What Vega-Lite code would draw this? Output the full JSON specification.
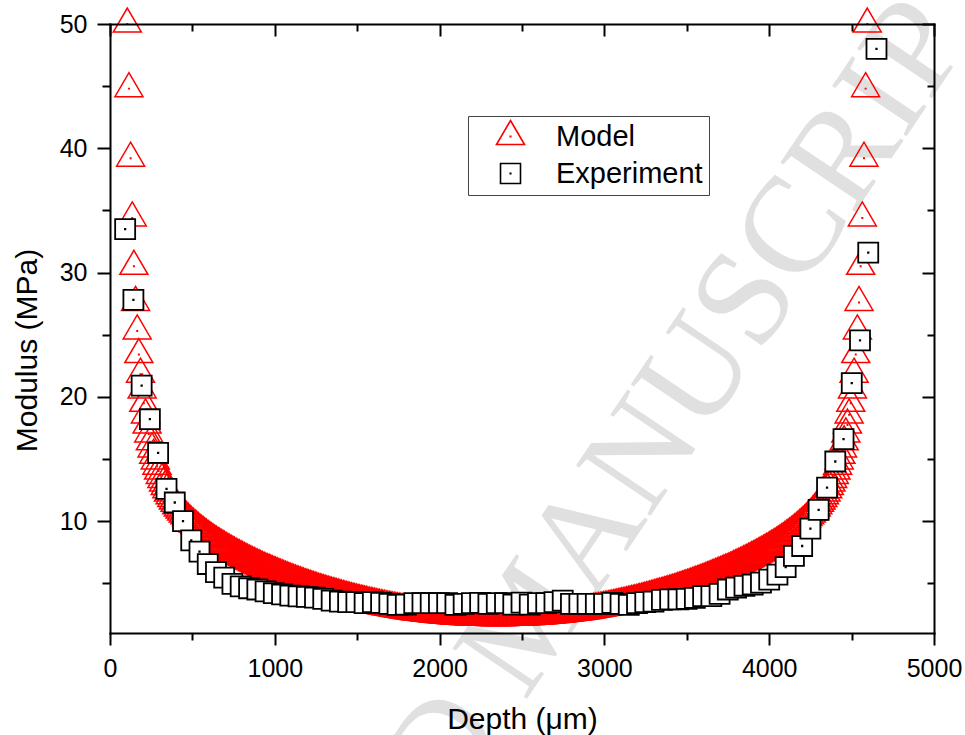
{
"$schema": "https://vega.github.io/schema/vega-lite/v6.json",
"width": 824,
"height": 609,
"autosize": {"type": "none"},
"padding": {"left": 110, "top": 24, "right": 31, "bottom": 102},
"background": "white",
"config": {
  "view": {"stroke": null},
  "font": "Liberation Sans",
  "axis": {"domainColor": "black", "tickColor": "black", "labelColor": "black", "titleColor": "black", "domainWidth": 2, "tickWidth": 2, "domainCap": "square", "labelFont": "Liberation Sans", "titleFont": "Liberation Sans", "titleFontWeight": "normal", "labelFontSize": 25, "titleFontSize": 30, "grid": false, "labelFlush": false, "labelOverlap": false},
  "legend": {"labelFont": "Liberation Sans"}
},
"datasets": {
  "wm": [{"d": 2550, "m": 2.0, "t": "ACCEPTED MANUSCRIPT"}],
  "model": [
{"d":105,"m":50},{"d":115,"m":44.8},{"d":125,"m":39.2},{"d":135,"m":34.4},{"d":145,"m":30.5},{"d":155,"m":27.6},{"d":165,"m":25.3},{"d":175,"m":23.4},{"d":185,"m":21.82},{"d":195,"m":20.56},
{"d":205,"m":19.48},{"d":215,"m":18.55},{"d":225,"m":17.73},{"d":235,"m":17.02},{"d":245,"m":16.38},{"d":255,"m":15.81},{"d":265,"m":15.3},{"d":275,"m":14.84},{"d":285,"m":14.42},{"d":295,"m":14.03},
{"d":305,"m":13.68},{"d":315,"m":13.36},{"d":325,"m":13.06},{"d":335,"m":12.78},{"d":345,"m":12.52},{"d":355,"m":12.27},{"d":365,"m":12.04},{"d":375,"m":11.83},{"d":385,"m":11.62},{"d":395,"m":11.43},
{"d":405,"m":11.24},{"d":415,"m":11.06},{"d":425,"m":10.9},{"d":435,"m":10.74},{"d":445,"m":10.58},{"d":455,"m":10.43},{"d":465,"m":10.29},{"d":475,"m":10.15},{"d":485,"m":10.02},{"d":495,"m":9.89},
{"d":505,"m":9.77},{"d":515,"m":9.65},{"d":525,"m":9.53},{"d":535,"m":9.41},{"d":545,"m":9.3},{"d":555,"m":9.19},{"d":565,"m":9.09},{"d":575,"m":8.98},{"d":585,"m":8.88},{"d":595,"m":8.78},
{"d":605,"m":8.69},{"d":615,"m":8.59},{"d":625,"m":8.5},{"d":635,"m":8.41},{"d":645,"m":8.32},{"d":655,"m":8.23},{"d":665,"m":8.15},{"d":675,"m":8.06},{"d":685,"m":7.98},{"d":695,"m":7.9},
{"d":705,"m":7.81},{"d":715,"m":7.73},{"d":725,"m":7.66},{"d":735,"m":7.58},{"d":745,"m":7.5},{"d":755,"m":7.43},{"d":765,"m":7.35},{"d":775,"m":7.28},{"d":785,"m":7.21},{"d":795,"m":7.14},
{"d":805,"m":7.07},{"d":815,"m":7.0},{"d":825,"m":6.93},{"d":835,"m":6.86},{"d":845,"m":6.79},{"d":855,"m":6.73},{"d":865,"m":6.66},{"d":875,"m":6.6},{"d":885,"m":6.53},{"d":895,"m":6.47},
{"d":905,"m":6.41},{"d":915,"m":6.35},{"d":925,"m":6.28},{"d":935,"m":6.22},{"d":945,"m":6.16},{"d":955,"m":6.1},{"d":965,"m":6.05},{"d":975,"m":5.99},{"d":985,"m":5.93},{"d":995,"m":5.87},
{"d":1005,"m":5.82},{"d":1015,"m":5.76},{"d":1025,"m":5.71},{"d":1035,"m":5.65},{"d":1045,"m":5.6},{"d":1055,"m":5.54},{"d":1065,"m":5.49},{"d":1075,"m":5.44},{"d":1085,"m":5.39},{"d":1095,"m":5.33},
{"d":1105,"m":5.28},{"d":1115,"m":5.23},{"d":1125,"m":5.18},{"d":1135,"m":5.13},{"d":1145,"m":5.09},{"d":1155,"m":5.04},{"d":1165,"m":4.99},{"d":1175,"m":4.94},{"d":1185,"m":4.89},{"d":1195,"m":4.85},
{"d":1205,"m":4.8},{"d":1215,"m":4.76},{"d":1225,"m":4.71},{"d":1235,"m":4.67},{"d":1245,"m":4.62},{"d":1255,"m":4.58},{"d":1265,"m":4.53},{"d":1275,"m":4.49},{"d":1285,"m":4.45},{"d":1295,"m":4.41},
{"d":1305,"m":4.36},{"d":1315,"m":4.32},{"d":1325,"m":4.28},{"d":1335,"m":4.24},{"d":1345,"m":4.2},{"d":1355,"m":4.16},{"d":1365,"m":4.13},{"d":1375,"m":4.09},{"d":1385,"m":4.05},{"d":1395,"m":4.01},
{"d":1405,"m":3.97},{"d":1415,"m":3.94},{"d":1425,"m":3.9},{"d":1435,"m":3.86},{"d":1445,"m":3.83},{"d":1455,"m":3.79},{"d":1465,"m":3.76},{"d":1475,"m":3.72},{"d":1485,"m":3.69},{"d":1495,"m":3.66},
{"d":1505,"m":3.62},{"d":1515,"m":3.59},{"d":1525,"m":3.56},{"d":1535,"m":3.53},{"d":1545,"m":3.5},{"d":1555,"m":3.47},{"d":1565,"m":3.43},{"d":1575,"m":3.4},{"d":1585,"m":3.37},{"d":1595,"m":3.35},
{"d":1605,"m":3.32},{"d":1615,"m":3.29},{"d":1625,"m":3.26},{"d":1635,"m":3.23},{"d":1645,"m":3.2},{"d":1655,"m":3.18},{"d":1665,"m":3.15},{"d":1675,"m":3.12},{"d":1685,"m":3.1},{"d":1695,"m":3.07},
{"d":1705,"m":3.05},{"d":1715,"m":3.02},{"d":1725,"m":3.0},{"d":1735,"m":2.97},{"d":1745,"m":2.95},{"d":1755,"m":2.93},{"d":1765,"m":2.91},{"d":1775,"m":2.88},{"d":1785,"m":2.86},{"d":1795,"m":2.84},
{"d":1805,"m":2.82},{"d":1815,"m":2.8},{"d":1825,"m":2.78},{"d":1835,"m":2.76},{"d":1845,"m":2.74},{"d":1855,"m":2.72},{"d":1865,"m":2.7},{"d":1875,"m":2.68},{"d":1885,"m":2.66},{"d":1895,"m":2.65},
{"d":1905,"m":2.63},{"d":1915,"m":2.61},{"d":1925,"m":2.6},{"d":1935,"m":2.58},{"d":1945,"m":2.56},{"d":1955,"m":2.55},{"d":1965,"m":2.53},{"d":1975,"m":2.52},{"d":1985,"m":2.5},{"d":1995,"m":2.49},
{"d":2005,"m":2.48},{"d":2015,"m":2.46},{"d":2025,"m":2.45},{"d":2035,"m":2.44},{"d":2045,"m":2.43},{"d":2055,"m":2.42},{"d":2065,"m":2.41},{"d":2075,"m":2.39},{"d":2085,"m":2.38},{"d":2095,"m":2.37},
{"d":2105,"m":2.36},{"d":2115,"m":2.36},{"d":2125,"m":2.35},{"d":2135,"m":2.34},{"d":2145,"m":2.33},{"d":2155,"m":2.32},{"d":2165,"m":2.32},{"d":2175,"m":2.31},{"d":2185,"m":2.3},{"d":2195,"m":2.3},
{"d":2205,"m":2.29},{"d":2215,"m":2.28},{"d":2225,"m":2.28},{"d":2235,"m":2.28},{"d":2245,"m":2.27},{"d":2255,"m":2.27},{"d":2265,"m":2.26},{"d":2275,"m":2.26},{"d":2285,"m":2.26},{"d":2295,"m":2.26},
{"d":2305,"m":2.25},{"d":2315,"m":2.25},{"d":2325,"m":2.25},{"d":2335,"m":2.25},{"d":2345,"m":2.25},
{"d":2355,"m":2.25},{"d":2365,"m":2.25},{"d":2375,"m":2.25},{"d":2385,"m":2.25},{"d":2395,"m":2.25},
{"d":2405,"m":2.26},{"d":2415,"m":2.26},{"d":2425,"m":2.26},{"d":2435,"m":2.26},{"d":2445,"m":2.27},{"d":2455,"m":2.27},{"d":2465,"m":2.28},{"d":2475,"m":2.28},{"d":2485,"m":2.28},{"d":2495,"m":2.29},
{"d":2505,"m":2.3},{"d":2515,"m":2.3},{"d":2525,"m":2.31},{"d":2535,"m":2.32},{"d":2545,"m":2.32},{"d":2555,"m":2.33},{"d":2565,"m":2.34},{"d":2575,"m":2.35},{"d":2585,"m":2.36},{"d":2595,"m":2.36},
{"d":2605,"m":2.37},{"d":2615,"m":2.38},{"d":2625,"m":2.39},{"d":2635,"m":2.41},{"d":2645,"m":2.42},{"d":2655,"m":2.43},{"d":2665,"m":2.44},{"d":2675,"m":2.45},{"d":2685,"m":2.46},{"d":2695,"m":2.48},
{"d":2705,"m":2.49},{"d":2715,"m":2.5},{"d":2725,"m":2.52},{"d":2735,"m":2.53},{"d":2745,"m":2.55},{"d":2755,"m":2.56},{"d":2765,"m":2.58},{"d":2775,"m":2.6},{"d":2785,"m":2.61},{"d":2795,"m":2.63},
{"d":2805,"m":2.65},{"d":2815,"m":2.66},{"d":2825,"m":2.68},{"d":2835,"m":2.7},{"d":2845,"m":2.72},{"d":2855,"m":2.74},{"d":2865,"m":2.76},{"d":2875,"m":2.78},{"d":2885,"m":2.8},{"d":2895,"m":2.82},
{"d":2905,"m":2.84},{"d":2915,"m":2.86},{"d":2925,"m":2.88},{"d":2935,"m":2.91},{"d":2945,"m":2.93},{"d":2955,"m":2.95},{"d":2965,"m":2.97},{"d":2975,"m":3.0},{"d":2985,"m":3.02},{"d":2995,"m":3.05},
{"d":3005,"m":3.07},{"d":3015,"m":3.1},{"d":3025,"m":3.12},{"d":3035,"m":3.15},{"d":3045,"m":3.18},{"d":3055,"m":3.2},{"d":3065,"m":3.23},{"d":3075,"m":3.26},{"d":3085,"m":3.29},{"d":3095,"m":3.32},
{"d":3105,"m":3.35},{"d":3115,"m":3.37},{"d":3125,"m":3.4},{"d":3135,"m":3.43},{"d":3145,"m":3.47},{"d":3155,"m":3.5},{"d":3165,"m":3.53},{"d":3175,"m":3.56},{"d":3185,"m":3.59},{"d":3195,"m":3.62},
{"d":3205,"m":3.66},{"d":3215,"m":3.69},{"d":3225,"m":3.72},{"d":3235,"m":3.76},{"d":3245,"m":3.79},{"d":3255,"m":3.83},{"d":3265,"m":3.86},{"d":3275,"m":3.9},{"d":3285,"m":3.94},{"d":3295,"m":3.97},
{"d":3305,"m":4.01},{"d":3315,"m":4.05},{"d":3325,"m":4.09},{"d":3335,"m":4.13},{"d":3345,"m":4.16},{"d":3355,"m":4.2},{"d":3365,"m":4.24},{"d":3375,"m":4.28},{"d":3385,"m":4.32},{"d":3395,"m":4.36},
{"d":3405,"m":4.41},{"d":3415,"m":4.45},{"d":3425,"m":4.49},{"d":3435,"m":4.53},{"d":3445,"m":4.58},{"d":3455,"m":4.62},{"d":3465,"m":4.67},{"d":3475,"m":4.71},{"d":3485,"m":4.76},{"d":3495,"m":4.8},
{"d":3505,"m":4.85},{"d":3515,"m":4.89},{"d":3525,"m":4.94},{"d":3535,"m":4.99},{"d":3545,"m":5.04},{"d":3555,"m":5.09},{"d":3565,"m":5.13},{"d":3575,"m":5.18},{"d":3585,"m":5.23},{"d":3595,"m":5.28},
{"d":3605,"m":5.33},{"d":3615,"m":5.39},{"d":3625,"m":5.44},{"d":3635,"m":5.49},{"d":3645,"m":5.54},{"d":3655,"m":5.6},{"d":3665,"m":5.65},{"d":3675,"m":5.71},{"d":3685,"m":5.76},{"d":3695,"m":5.82},
{"d":3705,"m":5.87},{"d":3715,"m":5.93},{"d":3725,"m":5.99},{"d":3735,"m":6.05},{"d":3745,"m":6.1},{"d":3755,"m":6.16},{"d":3765,"m":6.22},{"d":3775,"m":6.28},{"d":3785,"m":6.35},{"d":3795,"m":6.41},
{"d":3805,"m":6.47},{"d":3815,"m":6.53},{"d":3825,"m":6.6},{"d":3835,"m":6.66},{"d":3845,"m":6.73},{"d":3855,"m":6.79},{"d":3865,"m":6.86},{"d":3875,"m":6.93},{"d":3885,"m":7.0},{"d":3895,"m":7.07},
{"d":3905,"m":7.14},{"d":3915,"m":7.21},{"d":3925,"m":7.28},{"d":3935,"m":7.35},{"d":3945,"m":7.43},{"d":3955,"m":7.5},{"d":3965,"m":7.58},{"d":3975,"m":7.66},{"d":3985,"m":7.73},{"d":3995,"m":7.81},
{"d":4005,"m":7.9},{"d":4015,"m":7.98},{"d":4025,"m":8.06},{"d":4035,"m":8.15},{"d":4045,"m":8.23},{"d":4055,"m":8.32},{"d":4065,"m":8.41},{"d":4075,"m":8.5},{"d":4085,"m":8.59},{"d":4095,"m":8.69},
{"d":4105,"m":8.78},{"d":4115,"m":8.88},{"d":4125,"m":8.98},{"d":4135,"m":9.09},{"d":4145,"m":9.19},{"d":4155,"m":9.3},{"d":4165,"m":9.41},{"d":4175,"m":9.53},{"d":4185,"m":9.65},{"d":4195,"m":9.77},
{"d":4205,"m":9.89},{"d":4215,"m":10.02},{"d":4225,"m":10.15},{"d":4235,"m":10.29},{"d":4245,"m":10.43},{"d":4255,"m":10.58},{"d":4265,"m":10.74},{"d":4275,"m":10.9},{"d":4285,"m":11.06},{"d":4295,"m":11.24},
{"d":4305,"m":11.43},{"d":4315,"m":11.62},{"d":4325,"m":11.83},{"d":4335,"m":12.04},{"d":4345,"m":12.27},{"d":4355,"m":12.52},{"d":4365,"m":12.78},{"d":4375,"m":13.06},{"d":4385,"m":13.36},{"d":4395,"m":13.68},
{"d":4405,"m":14.03},{"d":4415,"m":14.42},{"d":4425,"m":14.84},{"d":4435,"m":15.3},{"d":4445,"m":15.81},{"d":4455,"m":16.38},{"d":4465,"m":17.02},{"d":4475,"m":17.73},{"d":4485,"m":18.55},{"d":4495,"m":19.48},
{"d":4505,"m":20.56},{"d":4515,"m":21.82},{"d":4525,"m":23.4},{"d":4535,"m":25.3},{"d":4545,"m":27.6},{"d":4555,"m":30.5},{"d":4565,"m":34.4},{"d":4575,"m":39.2},{"d":4585,"m":44.8},{"d":4595,"m":50}
  ],
  "exp": [
{"d":92,"e":33.5},{"d":142,"e":27.8},{"d":192,"e":20.9},{"d":242,"e":18.2},{"d":292,"e":15.5},{"d":343,"e":12.6},{"d":393,"e":11.5},{"d":443,"e":10.0},{"d":493,"e":8.45},{"d":543,"e":7.55},
{"d":593,"e":6.55},{"d":643,"e":5.9},{"d":693,"e":5.45},{"d":743,"e":4.95},{"d":793,"e":4.75},{"d":844,"e":4.6},{"d":894,"e":4.5},{"d":944,"e":4.35},{"d":994,"e":4.2},{"d":1044,"e":4.1},
{"d":1094,"e":4.0},{"d":1144,"e":3.95},{"d":1194,"e":3.9},{"d":1244,"e":3.85},{"d":1294,"e":3.75},{"d":1345,"e":3.61},{"d":1395,"e":3.53},{"d":1445,"e":3.48},{"d":1495,"e":3.48},{"d":1545,"e":3.4},
{"d":1595,"e":3.48},{"d":1645,"e":3.43},{"d":1695,"e":3.35},{"d":1745,"e":3.27},{"d":1795,"e":3.29},{"d":1846,"e":3.4},{"d":1896,"e":3.4},{"d":1946,"e":3.4},{"d":1996,"e":3.4},{"d":2046,"e":3.4},
{"d":2096,"e":3.27},{"d":2146,"e":3.35},{"d":2196,"e":3.4},{"d":2246,"e":3.43},{"d":2296,"e":3.35},{"d":2347,"e":3.4},{"d":2397,"e":3.4},{"d":2447,"e":3.29},{"d":2497,"e":3.45},{"d":2547,"e":3.29},
{"d":2597,"e":3.4},{"d":2647,"e":3.4},{"d":2697,"e":3.48},{"d":2747,"e":3.61},{"d":2797,"e":3.35},{"d":2848,"e":3.35},{"d":2898,"e":3.35},{"d":2948,"e":3.35},{"d":2998,"e":3.35},{"d":3048,"e":3.43},
{"d":3098,"e":3.35},{"d":3148,"e":3.27},{"d":3198,"e":3.4},{"d":3248,"e":3.48},{"d":3298,"e":3.53},{"d":3349,"e":3.67},{"d":3399,"e":3.7},{"d":3449,"e":3.7},{"d":3499,"e":3.75},{"d":3549,"e":3.83},
{"d":3599,"e":3.97},{"d":3649,"e":3.97},{"d":3699,"e":4.15},{"d":3749,"e":4.5},{"d":3799,"e":4.65},{"d":3850,"e":4.8},{"d":3900,"e":4.9},{"d":3950,"e":5.05},{"d":4000,"e":5.3},{"d":4050,"e":5.7},
{"d":4100,"e":6.3},{"d":4150,"e":7.2},{"d":4200,"e":8.0},{"d":4250,"e":9.4},{"d":4300,"e":10.9},{"d":4351,"e":12.7},{"d":4401,"e":14.8},{"d":4451,"e":16.6},{"d":4501,"e":21.1},{"d":4551,"e":24.55},
{"d":4601,"e":31.6},{"d":4651,"e":48.0}
  ]
},
"layer": [
  {
    "data": {"name": "wm"},
    "mark": {"type": "text", "font": "Liberation Serif", "fontSize": 137, "color": "#e0e0e0", "angle": -56, "align": "center", "baseline": "middle"},
    "encoding": {
      "x": {"field": "d", "type": "quantitative", "scale": {"domain": [0, 5000], "nice": false, "zero": false}, "axis": null},
      "y": {"field": "m", "type": "quantitative", "scale": {"domain": [1, 50], "nice": false, "zero": false}, "axis": null},
      "text": {"field": "t"}
    }
  },
  {
    "data": {"name": "model"},
    "mark": {"type": "point", "filled": false, "strokeWidth": 1.5, "size": 576, "opacity": 1},
    "encoding": {
      "x": {"field": "d", "type": "quantitative", "scale": {"domain": [0, 5000], "nice": false, "zero": false},
        "axis": {"orient": "bottom", "zindex": 1, "values": [0,500,1000,1500,2000,2500,3000,3500,4000,4500,5000], "format": "d",
          "labelExpr": "datum.value % 1000 === 0 ? datum.label : ''",
          "tickSize": {"condition": {"test": "datum.value % 1000 === 0", "value": 12}, "value": 7},
          "labelPadding": 11, "title": "Depth (μm)", "titleX": 412, "titleY": 95, "titleBaseline": "alphabetic"}},
      "y": {"field": "m", "type": "quantitative", "scale": {"domain": [1, 50], "nice": false, "zero": false},
        "axis": {"orient": "left", "zindex": 1, "values": [5,10,15,20,25,30,35,40,45,50], "format": "d",
          "labelExpr": "datum.value % 10 === 0 ? datum.label : ''",
          "tickSize": {"condition": {"test": "datum.value % 10 === 0", "value": 13}, "value": 8},
          "labelPadding": 10, "title": "Modulus (MPa)", "titleX": -74, "titleY": 326, "titleBaseline": "alphabetic", "titleAngle": -90}},
      "stroke": {"datum": "Model", "type": "nominal",
        "scale": {"domain": ["Model", "Experiment"], "range": ["#ff0000", "#000000"]},
        "legend": {"orient": "none", "legendX": 358, "legendY": 92, "title": null, "strokeColor": "#444444", "padding": 6, "symbolOffset": 22, "labelOffset": 31, "rowPadding": 7, "labelFontSize": 29, "labelColor": "black", "symbolSize": 576, "symbolStrokeWidth": 1.6, "symbolFillColor": "white", "fillColor": "white"}},
      "shape": {"datum": "Model", "type": "nominal",
        "scale": {"domain": ["Model", "Experiment"], "range": ["M0,-1.333L1.167,0.667L-1.167,0.667Z M-0.02,-0.02L0.02,-0.02L0.02,0.02L-0.02,0.02Z", "M-0.833,-0.833L0.833,-0.833L0.833,0.833L-0.833,0.833Z M-0.02,-0.02L0.02,-0.02L0.02,0.02L-0.02,0.02Z"]},
        "legend": {"orient": "none", "legendX": 358, "legendY": 92, "title": null, "strokeColor": "#444444", "padding": 6, "symbolOffset": 22, "labelOffset": 31, "rowPadding": 7, "labelFontSize": 29, "labelColor": "black", "symbolSize": 576, "symbolStrokeWidth": 1.6, "symbolFillColor": "white", "fillColor": "white"}}
    }
  },
  {
    "data": {"name": "exp"},
    "mark": {"type": "point", "filled": false, "fill": "white", "strokeWidth": 1.8, "size": 576, "opacity": 1},
    "encoding": {
      "x": {"field": "d", "type": "quantitative",
        "axis": {"orient": "top", "zindex": 1, "values": [0,500,1000,1500,2000,2500,3000,3500,4000,4500,5000], "labels": false, "title": null,
          "tickSize": {"condition": {"test": "datum.value % 1000 === 0", "value": -12}, "value": -7}}},
      "y": {"field": "e", "type": "quantitative",
        "axis": {"orient": "right", "zindex": 1, "values": [5,10,15,20,25,30,35,40,45,50], "labels": false, "title": null,
          "tickSize": {"condition": {"test": "datum.value % 10 === 0", "value": -12}, "value": -7}}},
      "stroke": {"datum": "Experiment", "type": "nominal"},
      "shape": {"datum": "Experiment", "type": "nominal"}
    }
  }
],
"resolve": {"axis": {"x": "independent", "y": "independent"}}
}
